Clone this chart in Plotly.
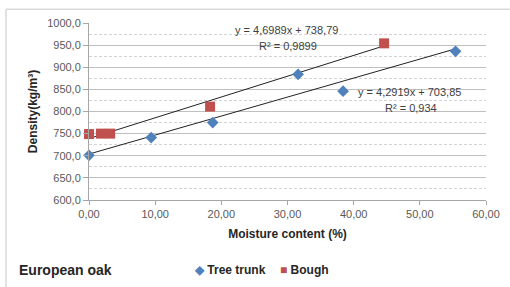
import plotly.graph_objects as go

# Data
trunk_x = [0.0, 9.4, 18.7, 31.6, 38.4, 55.4]
trunk_y = [701, 741, 775, 884, 846, 936]
bough_x = [0.0, 1.8, 3.2, 18.3, 44.6]
bough_y = [749, 750, 750, 811, 954]

trunk_fit = (4.2919, 703.85)
bough_fit = (4.6989, 738.79)

x_ticks = [0, 10, 20, 30, 40, 50, 60]
y_range = [600, 1000]

BLUE = "#4F81BD"
RED = "#C0504D"
FONT = "Liberation Sans"

def fit_line(xs, coef):
    lo, hi = min(xs), max(xs)
    return [lo, hi], [coef[0] * lo + coef[1], coef[0] * hi + coef[1]]

fig = go.Figure()

tx, ty = fit_line(trunk_x, trunk_fit)
bx, by = fit_line(bough_x, bough_fit)
fig.add_trace(go.Scatter(x=tx, y=ty, mode="lines", line=dict(color="#222222", width=1),
                         showlegend=False, hoverinfo="skip"))
fig.add_trace(go.Scatter(x=bx, y=by, mode="lines", line=dict(color="#222222", width=1),
                         showlegend=False, hoverinfo="skip"))

fig.add_trace(go.Scatter(x=trunk_x, y=trunk_y, mode="markers", name="Tree trunk",
                         marker=dict(symbol="diamond", size=9, color=BLUE), cliponaxis=False))
fig.add_trace(go.Scatter(x=bough_x, y=bough_y, mode="markers", name="Bough",
                         marker=dict(symbol="square", size=10, color=RED), cliponaxis=False))

# Plot area: x px 89..486, y px 22.7..200
L, R, T, B = 89, 486, 22.7, 200
W, H = 510, 287
def px(xp):
    return (xp - L) / (R - L)
def py(yp):
    return (B - yp) / (B - T)

fig.update_layout(
    width=W, height=H,
    margin=dict(l=L, r=W - R, t=T, b=H - B, autoexpand=False),
    paper_bgcolor="white", plot_bgcolor="white",
    separators=", ",
    font=dict(family=FONT, size=11, color="#595959"),
    showlegend=False,
    xaxis=dict(range=[0, 60], tickvals=x_ticks, tickformat=".2f", automargin=False,
               showgrid=False, zeroline=False,
               showline=True, linecolor="#A6A6A6", linewidth=1,
               ticks="outside", ticklen=4, tickcolor="#A6A6A6",
               tickfont=dict(size=11, color="#595959"),
               title=dict(text="Moisture content (%)", standoff=10,
                          font=dict(family=FONT, size=12, color="#262626", weight="bold"))),
    yaxis=dict(range=y_range, dtick=50, tick0=600, tickformat=".1f", automargin=False,
               showgrid=True, gridcolor="#BFBFBF", gridwidth=1, zeroline=False,
               showline=True, linecolor="#A6A6A6", linewidth=1,
               ticks="outside", ticklen=5, tickcolor="#A6A6A6",
               tickfont=dict(size=11, color="#595959"),
               minor=dict(dtick=25, tick0=600, showgrid=True, gridcolor="#D3D3D3",
                          griddash="3px,2px", gridwidth=1, ticks=""),
               title=dict(text="Density(kg/m³)", standoff=6,
                          font=dict(family=FONT, size=12, color="#262626", weight="bold"))),
)

# chart border (top & left visible)
fig.add_shape(type="line", xref="paper", yref="paper", x0=px(6), x1=px(520), y0=py(9), y1=py(9),
              line=dict(color="#D9D9D9", width=1.5))
fig.add_shape(type="line", xref="paper", yref="paper", x0=px(6), x1=px(6), y0=py(9), y1=py(300),
              line=dict(color="#D9D9D9", width=1.5))

ann_font = dict(family=FONT, size=11, color="#404040")
fig.add_annotation(xref="paper", yref="paper", x=px(233), y=py(30), xanchor="left", yanchor="middle",
                   text="y = 4,6989x + 738,79", showarrow=False, font=ann_font)
fig.add_annotation(xref="paper", yref="paper", x=px(257), y=py(46), xanchor="left", yanchor="middle",
                   text="R² = 0,9899", showarrow=False, font=ann_font)
fig.add_annotation(xref="paper", yref="paper", x=px(356), y=py(92), xanchor="left", yanchor="middle",
                   text="y = 4,2919x + 703,85", showarrow=False, font=ann_font)
fig.add_annotation(xref="paper", yref="paper", x=px(383), y=py(108), xanchor="left", yanchor="middle",
                   text="R² = 0,934", showarrow=False, font=ann_font)

fig.add_annotation(xref="paper", yref="paper", x=px(17), y=py(270), xanchor="left", yanchor="middle",
                   text="European oak", showarrow=False,
                   font=dict(family=FONT, size=14, color="#262626", weight="bold"))

# legend (drawn as text so spacing matches the original)
leg_font = dict(family=FONT, size=12, color="#262626", weight="bold")
fig.add_annotation(xref="paper", yref="paper", x=px(192), y=py(270), xanchor="left", yanchor="middle",
                   text=f'<span style="color:{BLUE}">◆</span> Tree trunk', showarrow=False, font=leg_font)
fig.add_annotation(xref="paper", yref="paper", x=px(278), y=py(270), xanchor="left", yanchor="middle",
                   text=f'<span style="color:{RED}">■</span> Bough', showarrow=False, font=leg_font)

fig.write_html("out.html", config={"displayModeBar": False},
               post_script="document.body.style.margin='0';document.body.style.overflow='hidden';")
